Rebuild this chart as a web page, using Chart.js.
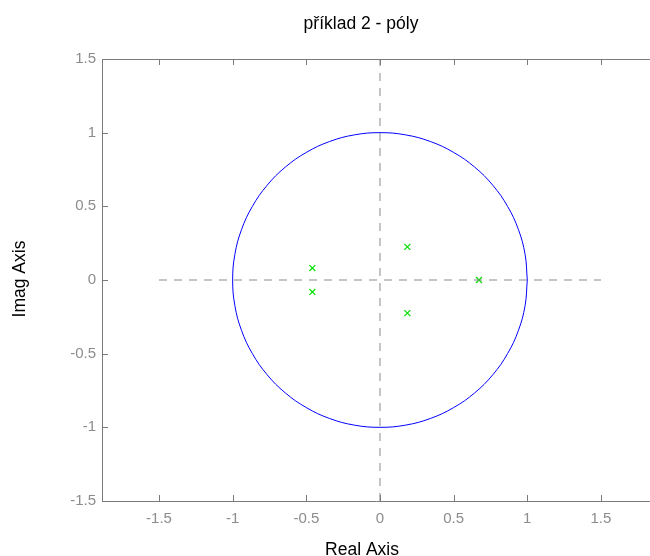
<!DOCTYPE html>
<html>
<head>
<meta charset="utf-8">
<script src="https://cdn.jsdelivr.net/npm/chart.js@4/dist/chart.umd.min.js"></script>
<style>
  body { margin: 0; background: #fff; overflow: hidden; }
</style>
</head>
<body>
<canvas id="pzmap" width="650" height="556"></canvas>
<script>
// pole positions
const poleRe = [-0.459, -0.459, 0.186, 0.186, 0.672]
const poleIm = [0.081, -0.081, 0.225, -0.225, 0]

// unit circle, every 10 degrees
const circleRe = [1, 0.985, 0.940, 0.866, 0.766, 0.643, 0.5, 0.342, 0.174, 0,
  -0.174, -0.342, -0.5, -0.643, -0.766, -0.866, -0.940, -0.985, -1,
  -0.985, -0.940, -0.866, -0.766, -0.643, -0.5, -0.342, -0.174, 0,
  0.174, 0.342, 0.5, 0.643, 0.766, 0.866, 0.940, 0.985, 1]
const circleIm = [0, 0.174, 0.342, 0.5, 0.643, 0.766, 0.866, 0.940, 0.985, 1,
  0.985, 0.940, 0.866, 0.766, 0.643, 0.5, 0.342, 0.174, 0,
  -0.174, -0.342, -0.5, -0.643, -0.766, -0.866, -0.940, -0.985, -1,
  -0.985, -0.940, -0.866, -0.766, -0.643, -0.5, -0.342, -0.174, 0]

// dashed axes through the origin
const hLineRe = [-1.5, 1.5]
const vLineIm = [-1.5, 1.5]

const xTicks = [-1.5, -1, -0.5, 0, 0.5, 1, 1.5]
const yTicks = [-1.5, -1, -0.5, 0, 0.5, 1, 1.5]

const titleText = 'příklad 2 - póly'
const xTitle = 'Real Axis'
const yTitle = 'Imag Axis'

const frameColor = '#7a7a7a'
const tickColor = '#8c8c8c'
const fontFamily = '"Liberation Sans", Arial, sans-serif'

const pairs = (xs, ys) => xs.map((x, i) => ({ x: x, y: ys[i] }))

// inside tick marks, top border, and the text around the plot
const framePlugin = {
  id: 'frame',
  afterDraw(chart) {
    const c = chart.ctx
    const a = chart.chartArea
    const xs = chart.scales.x
    const ys = chart.scales.y
    c.save()
    c.strokeStyle = frameColor
    c.lineWidth = 1
    c.beginPath()
    c.moveTo(a.left, a.top + 0.5)
    c.lineTo(a.right, a.top + 0.5)
    xTicks.forEach(v => {
      const px = Math.round(xs.getPixelForValue(v)) + 0.5
      c.moveTo(px, a.bottom)
      c.lineTo(px, a.bottom - 6)
      c.moveTo(px, a.top)
      c.lineTo(px, a.top + 6)
    })
    yTicks.forEach(v => {
      const py = Math.round(ys.getPixelForValue(v)) + 0.5
      c.moveTo(a.left, py)
      c.lineTo(a.left + 6, py)
    })
    c.stroke()

    c.fillStyle = '#000'
    c.font = '17.5px ' + fontFamily
    c.textAlign = 'center'
    c.textBaseline = 'alphabetic'
    c.fillText(titleText, 361, 29)
    c.fillText(xTitle, 362, 555)
    c.translate(25, 279)
    c.rotate(-Math.PI / 2)
    c.fillText(yTitle, 0, 0)
    c.restore()
  }
}

const ctx = document.querySelector('#pzmap').getContext('2d')

const config = {
  type: 'scatter',
  data: {
    datasets: [
      {
        label: 'horizontal',
        data: pairs(hLineRe, [0, 0]),
        showLine: true,
        borderColor: '#8a8a8a',
        borderWidth: 1,
        borderDash: [8, 7],
        pointRadius: 0
      },
      {
        label: 'vertical',
        data: pairs([0, 0], vLineIm),
        showLine: true,
        borderColor: '#8a8a8a',
        borderWidth: 1,
        borderDash: [8, 7],
        pointRadius: 0
      },
      {
        label: 'unit circle',
        data: pairs(circleRe, circleIm),
        showLine: true,
        borderColor: '#0000ff',
        borderWidth: 1,
        pointRadius: 0,
        tension: 0.4
      },
      {
        label: 'poles',
        data: pairs(poleRe, poleIm),
        showLine: false,
        pointStyle: 'crossRot',
        pointRadius: 4.2,
        borderColor: '#00e000',
        borderWidth: 1.2
      }
    ]
  },
  options: {
    responsive: false,
    animation: false,
    layout: { autoPadding: false, padding: { top: 59, left: 0, right: 0, bottom: 0 } },
    plugins: {
      legend: { display: false },
      tooltip: { enabled: false },
      title: { display: false }
    },
    scales: {
      x: {
        type: 'linear',
        min: -1.887,
        max: 1.833,
        afterBuildTicks: s => { s.ticks = xTicks.map(v => ({ value: v })) },
        afterFit: s => { s.height = 55 },
        grid: { display: false, drawTicks: false },
        border: { color: frameColor, width: 1 },
        ticks: {
          color: tickColor,
          font: { family: fontFamily, size: 15 },
          padding: 9,
          maxRotation: 0,
          callback: v => String(v)
        }
      },
      y: {
        type: 'linear',
        min: -1.5,
        max: 1.5,
        afterBuildTicks: s => { s.ticks = yTicks.map(v => ({ value: v })) },
        afterFit: s => { s.width = 102 },
        grid: { display: false, drawTicks: false },
        border: { color: frameColor, width: 1 },
        ticks: {
          color: tickColor,
          font: { family: fontFamily, size: 15 },
          padding: 6,
          callback: v => String(v)
        }
      }
    }
  },
  plugins: [framePlugin]
}

const pzChart = new Chart(ctx, config)
</script>
</body>
</html>
